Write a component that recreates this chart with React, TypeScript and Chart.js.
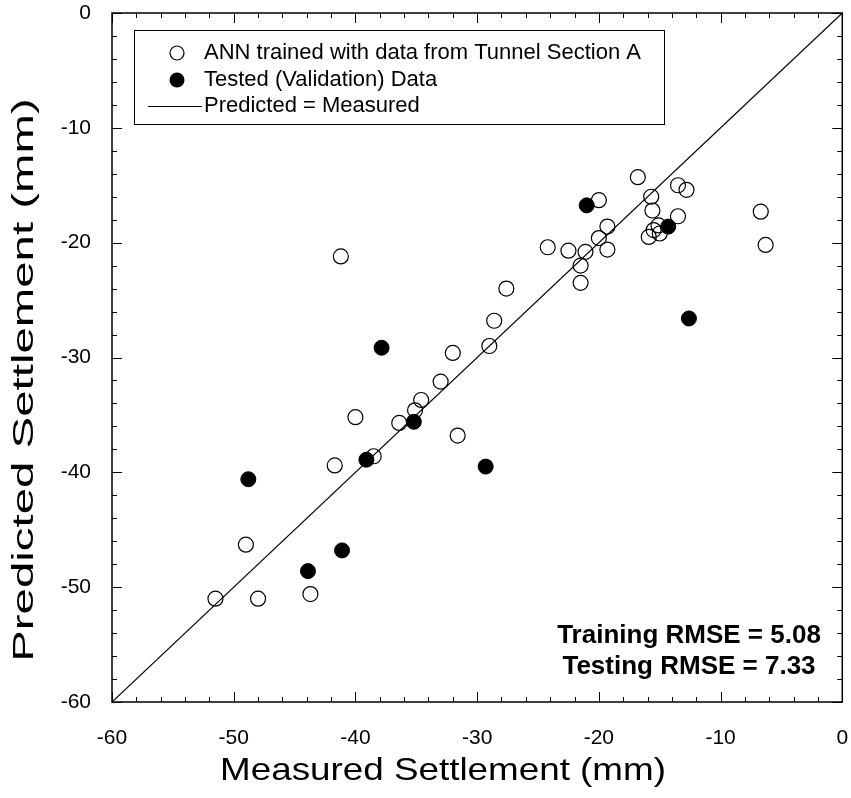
import React, { useEffect, useRef } from "react";
import { Chart, registerables } from "chart.js";

Chart.register(...registerables);

// ---- Data ----
const trainingMeasured = [
  -51.5, -48.0, -49.0, -43.7, -41.7, -40.0, -38.5, -41.2, -36.4, -35.1, -34.6, -33.0, -32.0,
  -31.6, -29.0, -28.6, -27.6, -24.2, -22.5, -21.1, -21.5, -21.5, -20.0, -19.3, -19.3, -20.0,
  -16.8, -15.7, -15.6, -15.5, -15.0, -15.9, -15.1, -13.5, -12.8, -13.5, -6.7, -6.3,
];
const trainingPredicted = [
  -51.0, -51.0, -46.3, -50.6, -39.4, -35.2, -38.6, -21.2, -35.7, -34.6, -33.7, -32.1, -29.6,
  -36.8, -29.0, -26.8, -24.0, -20.4, -20.7, -20.8, -22.0, -23.5, -19.6, -20.6, -18.6, -16.3,
  -14.3, -16.0, -17.2, -18.9, -19.2, -19.5, -18.5, -15.0, -15.4, -17.7, -17.3, -20.2,
];
const testingMeasured = [-48.8, -43.9, -41.1, -39.1, -37.85, -35.2, -29.3, -21.0, -14.3, -12.6];
const testingPredicted = [-40.6, -48.6, -46.8, -38.9, -29.15, -35.6, -39.5, -16.75, -18.6, -26.6];
const identityMeasured = [-60, 0];
const identityPredicted = [-60, 0];

const axisMin = -60;
const axisMax = 0;
const majorStep = 10;
const minorStep = 2;

const legendLabels = [
  "ANN trained with data from Tunnel Section A",
  "Tested (Validation) Data",
  "Predicted = Measured",
];
const rmseLines = ["Training RMSE = 5.08", "Testing RMSE = 7.33"];
const xTitle = "Measured Settlement (mm)";
const yTitle = "Predicted Settlement (mm)";

const FONT = "'Liberation Sans', Arial, Helvetica, sans-serif";

const toPoints = (xs: number[], ys: number[]) => xs.map((x, i) => ({ x, y: ys[i] }));

const frameTicksPlugin = {
  id: "frameTicks",
  afterDatasetsDraw(chart: any) {
    const { ctx, chartArea } = chart;
    const xs = chart.scales.x;
    const ys = chart.scales.y;
    ctx.save();
    ctx.strokeStyle = "#000";
    ctx.lineWidth = 1.5;
    ctx.strokeRect(chartArea.left, chartArea.top, chartArea.right - chartArea.left, chartArea.bottom - chartArea.top);
    ctx.lineWidth = 1;
    ctx.beginPath();
    for (let v = axisMin; v <= axisMax + 1e-9; v += minorStep) {
      const major = Math.abs(v % majorStep) < 1e-9;
      const len = major ? 10 : 5;
      const px = Math.round(xs.getPixelForValue(v)) + 0.5;
      ctx.moveTo(px, chartArea.bottom);
      ctx.lineTo(px, chartArea.bottom - len);
      ctx.moveTo(px, chartArea.top);
      ctx.lineTo(px, chartArea.top + len);
      const py = Math.round(ys.getPixelForValue(v)) + 0.5;
      ctx.moveTo(chartArea.left, py);
      ctx.lineTo(chartArea.left + len, py);
      ctx.moveTo(chartArea.right, py);
      ctx.lineTo(chartArea.right - len, py);
    }
    ctx.stroke();
    ctx.restore();
  },
};

const titlesPlugin = {
  id: "axisTitles",
  afterDraw(chart: any) {
    const { ctx } = chart;
    ctx.save();
    ctx.fillStyle = "#000";
    ctx.textAlign = "center";
    ctx.textBaseline = "middle";
    ctx.save();
    ctx.font = `32px ${FONT}`;
    ctx.translate(443, 771);
    ctx.scale(1.15, 1);
    ctx.fillText(xTitle, 0, 0);
    ctx.restore();
    ctx.save();
    ctx.font = `30px ${FONT}`;
    ctx.translate(25, 380);
    ctx.rotate(-Math.PI / 2);
    ctx.scale(1.58, 1);
    ctx.fillText(yTitle, 0, 0);
    ctx.restore();
    ctx.restore();
  },
};

const legendPlugin = {
  id: "customLegend",
  afterDraw(chart: any) {
    const { ctx } = chart;
    ctx.save();
    const left = 134;
    const top = 30;
    const right = 664;
    const bottom = 124;
    ctx.fillStyle = "#fff";
    ctx.fillRect(left, top, right - left, bottom - top);
    ctx.strokeStyle = "#000";
    ctx.lineWidth = 1;
    ctx.strokeRect(left + 0.5, top + 0.5, right - left, bottom - top);
    const rows = [53, 80, 106];
    const mx = 177;
    const tx = 204;
    ctx.font = `22px ${FONT}`;
    ctx.textBaseline = "middle";
    ctx.textAlign = "left";
    ctx.fillStyle = "#000";
    ctx.beginPath();
    ctx.arc(mx, rows[0], 7, 0, Math.PI * 2);
    ctx.lineWidth = 1.2;
    ctx.stroke();
    ctx.fillText(legendLabels[0], tx, rows[0]);
    ctx.beginPath();
    ctx.arc(mx, rows[1], 7.5, 0, Math.PI * 2);
    ctx.fill();
    ctx.fillText(legendLabels[1], tx, rows[1]);
    ctx.beginPath();
    ctx.lineWidth = 1;
    ctx.moveTo(148, rows[2] + 0.5);
    ctx.lineTo(202, rows[2] + 0.5);
    ctx.stroke();
    ctx.fillText(legendLabels[2], tx, rows[2]);
    ctx.restore();
  },
};

const rmsePlugin = {
  id: "rmseText",
  afterDraw(chart: any) {
    const { ctx } = chart;
    ctx.save();
    ctx.font = `bold 26px ${FONT}`;
    ctx.fillStyle = "#000";
    ctx.textAlign = "center";
    ctx.textBaseline = "alphabetic";
    ctx.fillText(rmseLines[0], 689, 643);
    ctx.fillText(rmseLines[1], 689, 674);
    ctx.restore();
  },
};

export default function App() {
  const canvasRef = useRef<HTMLCanvasElement | null>(null);

  useEffect(() => {
    if (!canvasRef.current) return;
    const chart = new Chart(canvasRef.current, {
      type: "scatter",
      data: {
        datasets: [
          {
            label: legendLabels[1],
            data: toPoints(testingMeasured, testingPredicted),
            pointRadius: 7.5,
            pointBackgroundColor: "#000",
            pointBorderColor: "#000",
            pointBorderWidth: 1,
            order: 0,
          },
          {
            label: legendLabels[0],
            data: toPoints(trainingMeasured, trainingPredicted),
            pointRadius: 7.5,
            pointBackgroundColor: "rgba(0,0,0,0)",
            pointBorderColor: "#000",
            pointBorderWidth: 1.2,
            order: 1,
          },
          {
            type: "line",
            label: legendLabels[2],
            data: toPoints(identityMeasured, identityPredicted),
            borderColor: "#000",
            borderWidth: 1.2,
            pointRadius: 0,
            fill: false,
            order: 2,
          } as any,
        ],
      },
      options: {
        responsive: false,
        animation: false,
        devicePixelRatio: 1,
        layout: { padding: { top: 13, right: 4, left: 0, bottom: 0 } },
        plugins: {
          legend: { display: false },
          tooltip: { enabled: false },
        },
        scales: {
          x: {
            type: "linear",
            min: axisMin,
            max: axisMax,
            grid: { display: false, drawTicks: false },
            border: { display: false },
            ticks: {
              stepSize: majorStep,
              color: "#000",
              padding: 24,
              maxRotation: 0,
              font: { family: FONT, size: 21 },
            },
            title: { display: false, text: xTitle },
            afterFit: (s: any) => {
              s.height = 96;
              s.paddingLeft = 0;
              s.paddingRight = 0;
            },
          },
          y: {
            type: "linear",
            min: axisMin,
            max: axisMax,
            grid: { display: false, drawTicks: false },
            border: { display: false },
            ticks: {
              stepSize: majorStep,
              color: "#000",
              padding: 21,
              font: { family: FONT, size: 21 },
            },
            title: { display: false, text: yTitle },
            afterFit: (s: any) => {
              s.width = 112;
              s.paddingTop = 0;
              s.paddingBottom = 0;
            },
          },
        },
      },
      plugins: [frameTicksPlugin, legendPlugin, rmsePlugin, titlesPlugin],
    });
    return () => chart.destroy();
  }, []);

  return (
    <div style={{ position: "absolute", left: 0, top: 0, width: 851, height: 798, background: "#fff" }}>
      <canvas ref={canvasRef} width={851} height={798} style={{ display: "block" }} />
    </div>
  );
}
